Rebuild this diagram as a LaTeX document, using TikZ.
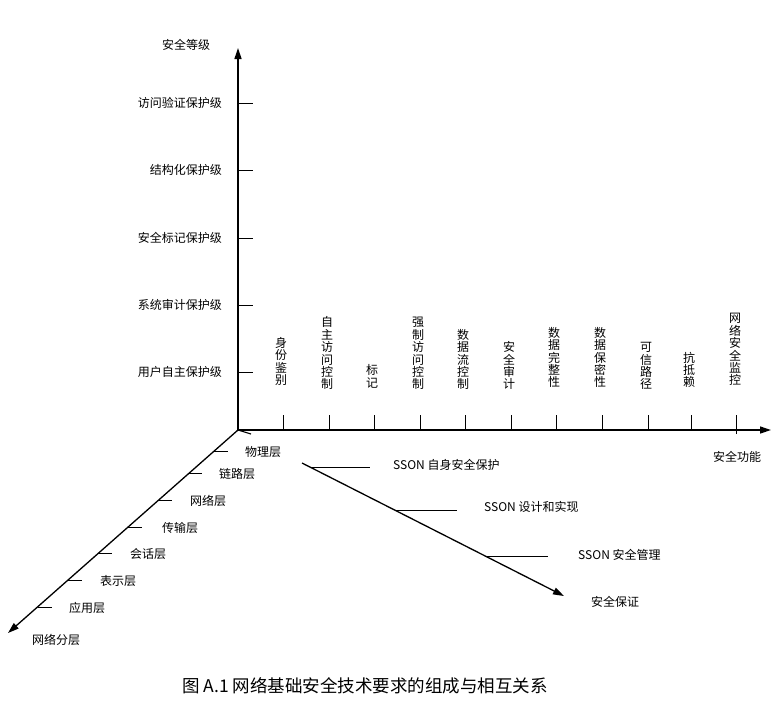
\documentclass[tikz,border=0pt]{standalone}
\usepackage{fontspec}
\setmainfont{Noto Sans CJK SC}
\usetikzlibrary{arrows.meta}
\tikzset{
  axis/.style={line width=1.3pt,-{Triangle[length=11pt,width=7pt]}},
  tick/.style={line width=0.8pt},
  lbl/.style={inner sep=0pt,font=\fontsize{12}{13}\selectfont},
  vlbl/.style={inner sep=0pt,anchor=south,align=center,font=\fontsize{12}{12.4}\selectfont},
}
\begin{document}
\begin{tikzpicture}[x=1pt,y=-1pt]
\useasboundingbox (0,0) rectangle (775,712);
% axes
\coordinate (O) at (238,430);
\coordinate (Vtop) at (238,48);
\coordinate (Hend) at (771,430);
\coordinate (Dend) at (8,633);
\coordinate (Sstub) at (251,434);
\coordinate (Sstart) at (302,463);
\coordinate (Send) at (564,596);
\draw[axis] (O) -- (Vtop);
\draw[axis] (O) -- (Hend);
\draw[axis] (O) -- (Dend);
\draw[line width=1.1pt] (O) -- (Sstub);
\draw[axis] (Sstart) -- (Send);

% vertical axis ticks and labels
\node[lbl] (lvl) at (186,45) {安全等级};
\foreach \y/\t/\n in {103/访问验证保护级/v1,170/结构化保护级/v2,238/安全标记保护级/v3,305/系统审计保护级/v4,372/用户自主保护级/v5}{
  \coordinate (\n) at (238,\y);
  \coordinate (\n e) at (253,\y);
  \draw[tick] (\n) -- (\n e);
  \node[lbl,anchor=east] (\n l) at (222,\y) {\t};
}

% horizontal axis ticks and labels
\foreach \x/\b/\t/\n in {283/386/身\\份\\鉴\\别/h1,329/390/自\\主\\访\\问\\控\\制/h2,374/388/标\\记/h3,420/390/强\\制\\访\\问\\控\\制/h4,465/390/数\\据\\流\\控\\制/h5,511/390/安\\全\\审\\计/h6,556/388/数\\据\\完\\整\\性/h7,602/388/数\\据\\保\\密\\性/h8,648/390/可\\信\\路\\径/h9,691/388/抗\\抵\\赖/h10}{
  \coordinate (\n) at (\x,430);
  \coordinate (\n t) at (\x,415);
  \draw[tick] (\n) -- (\n t);
  \node[vlbl] (\n l) at (\x-2,\b) {\t};
}
\coordinate (h11) at (736,434);
\coordinate (h11t) at (736,415);
\draw[tick] (h11) -- (h11t);
\node[vlbl] (h11l) at (735,386) {网\\络\\安\\全\\监\\控};
\node[lbl] (func) at (737,457) {安全功能};

% diagonal (network layers)
\foreach \x/\y/\lx/\t/\n in {214/451/263/物理层/d1,188/473/237/链路层/d2,158/500/208/网络层/d3,128/527/180/传输层/d4,98/553/148/会话层/d5,68/580/118/表示层/d6,38/607/87/应用层/d7}{
  \coordinate (\n) at (\x,\y);
  \coordinate (\n e) at (\x+14,\y);
  \draw[tick] (\n) -- (\n e);
  \node[lbl] (\n l) at (\lx,\y+1) {\t};
}
\node[lbl] (dlabel) at (56,640) {网络分层};

% SSON axis
\coordinate (s1) at (310,467);
\coordinate (s1e) at (370,467);
\coordinate (s2) at (396,510);
\coordinate (s2e) at (457,510);
\coordinate (s3) at (487,556);
\coordinate (s3e) at (548,556);
\draw[tick] (s1) -- (s1e);
\draw[tick] (s2) -- (s2e);
\draw[tick] (s3) -- (s3e);
\node[lbl,anchor=west] (s1l) at (393,465) {SSON 自身安全保护};
\node[lbl,anchor=west] (s2l) at (484,507) {SSON 设计和实现};
\node[lbl,anchor=west] (s3l) at (578,555) {SSON 安全管理};
\node[lbl] (sguar) at (615,602) {安全保证};

% caption
\node[inner sep=0pt,anchor=west,font=\fontsize{17.5}{19}\selectfont] (cap) at (182,686) {图 A.1 网络基础安全技术要求的组成与相互关系};
\end{tikzpicture}
\end{document}
